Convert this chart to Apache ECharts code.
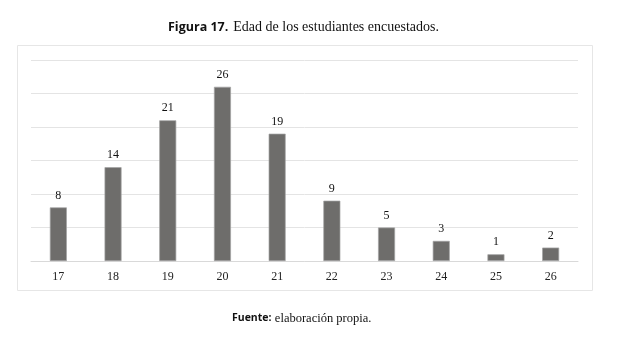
<!DOCTYPE html>
<html>
<head>
<meta charset="utf-8">
<script src="https://cdn.jsdelivr.net/npm/echarts@6/dist/echarts.min.js"></script>
<style>
    html, body { margin: 0; padding: 0; background: #fff; }
    #chart { width: 630px; height: 351px; }
</style>
</head>
<body>
<div id="chart"></div>
<script>
    // edades y número de estudiantes
    const edades = ['17', '18', '19', '20', '21', '22', '23', '24', '25', '26']
    const estudiantes = [8, 14, 21, 26, 19, 9, 5, 3, 1, 2]

    const serif = '"Liberation Serif", "DejaVu Serif", serif'
    const sans = '"Open Sans", "Noto Sans", sans-serif'

    const mychart = echarts.init(document.getElementById('chart'))
    mychart.setOption({
        animation: false,
        title: {
            text: '{b|Figura 17.} {r|Edad de los estudiantes encuestados.}',
            left: 163,
            top: 13,
            textStyle: {
                fontWeight: 'normal',
                rich: {
                    b: { fontFamily: sans, fontWeight: 'bold', fontSize: 12.5, color: '#111' },
                    r: { fontFamily: serif, fontWeight: 'normal', fontSize: 14, color: '#111' }
                }
            }
        },
        graphic: [
            {
                type: 'rect',
                shape: { x: 17.5, y: 45.5, width: 575, height: 245 },
                style: { fill: 'none', stroke: '#e6e6e6', lineWidth: 1 },
                z: -1
            },
            {
                type: 'text',
                left: 232,
                top: 312,
                style: {
                    text: '{b|Fuente:} {r|elaboración propia.}',
                    rich: {
                        b: { fontFamily: sans, fontWeight: 'bold', fontSize: 10.5, fill: '#111' },
                        r: { fontFamily: serif, fontSize: 12.5, fill: '#111' }
                    }
                }
            }
        ],
        grid: {
            left: 31,
            right: 52,
            top: 60,
            bottom: 90
        },
        xAxis: {
            type: 'category',
            data: edades,
            axisTick: { show: false },
            axisLine: { lineStyle: { color: '#d9d9d9', width: 1 } },
            axisLabel: {
                color: '#222',
                fontFamily: serif,
                fontSize: 12,
                margin: 10
            }
        },
        yAxis: {
            type: 'value',
            min: 0,
            max: 30,
            interval: 5,
            axisLabel: { show: false },
            axisLine: { show: false },
            axisTick: { show: false },
            splitLine: { lineStyle: { color: '#e4e4e4', width: 1 } }
        },
        series: [{
            type: 'bar',
            data: estudiantes,
            barWidth: 17,
            itemStyle: {
                color: '#6e6d6b',
                borderColor: '#a3a3a3',
                borderWidth: 0.7
            },
            label: {
                show: true,
                position: 'top',
                distance: 6,
                color: '#111',
                fontFamily: serif,
                fontSize: 12
            }
        }]
    })
</script>
</body>
</html>
